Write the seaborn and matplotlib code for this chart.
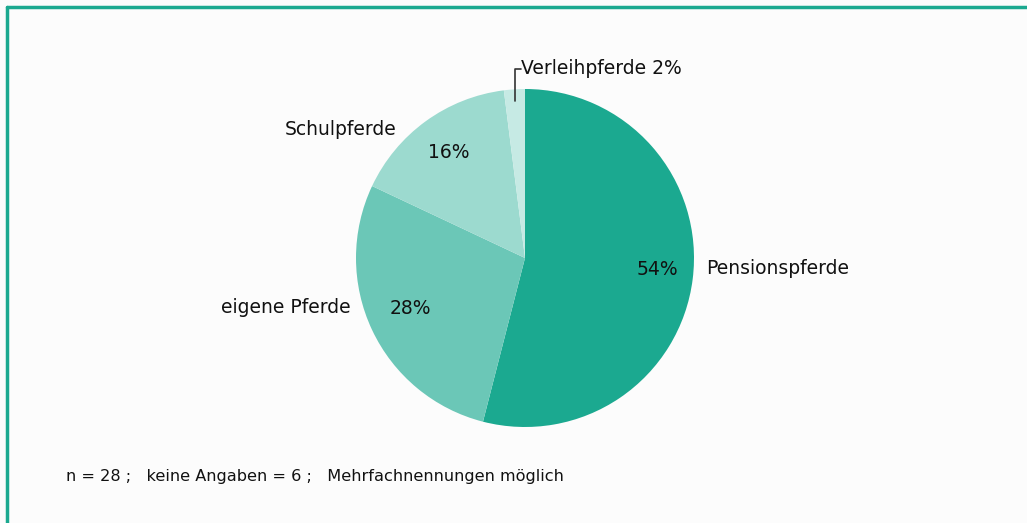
import matplotlib
matplotlib.use("Agg")
import matplotlib.pyplot as plt
import seaborn as sns
import numpy as np

# data
categories = ["Pensionspferde", "eigene Pferde", "Schulpferde", "Verleihpferde"]
shares = [54, 28, 16, 2]
colors = ["#1ba990", "#6bc7b7", "#9cdacf", "#c6eae4"]
footnote = "n = 28 ;   keine Angaben = 6 ;   Mehrfachnennungen möglich"

sns.set_theme(style="white")
plt.rcParams["font.family"] = ["DejaVu Sans"]

fig = plt.figure(figsize=(10.27, 5.23), dpi=100, facecolor="#fcfcfc")

# teal frame (top and left edges)
fig.add_artist(plt.Line2D([7 / 1027, 1], [1 - 7 / 523, 1 - 7 / 523], color="#1ba990", lw=2.5))
fig.add_artist(plt.Line2D([7 / 1027, 7 / 1027], [0, 1 - 7 / 523], color="#1ba990", lw=2.5))

# pie: centre (525, 258), radius 169 px
r = 169
ax = fig.add_axes([(525 - r) / 1027, (523 - 258 - r) / 523, 2 * r / 1027, 2 * r / 523])
ax.set_facecolor("none")
wedges, _, autotexts = ax.pie(shares, colors=colors, startangle=90, counterclock=False,
                              autopct=lambda p: "" if p < 5 else f"{p:.0f}%",
                              pctdistance=0.77, radius=1,
                              wedgeprops=dict(linewidth=0),
                              textprops=dict(fontsize=13.5, color="#111111"))
ax.set_xlim(-1, 1)
ax.set_ylim(-1, 1)
ax.set_aspect("equal")
ax.axis("off")

# nudge lower percentages slightly upward
for t in autotexts[:2]:
    x, y = t.get_position()
    t.set_position((x + 0.02, y + 0.03))

# category labels
label_pos = {
    "Pensionspferde": (1.07, -0.06, "left"),
    "eigene Pferde": (-1.03, -0.29, "right"),
    "Schulpferde": (-0.76, 0.76, "right"),
}
for name, (x, y, ha) in label_pos.items():
    ax.text(x, y, name, ha=ha, va="center", fontsize=13.5, color="#111111", clip_on=False)

# small slice with leader line
w = wedges[3]
mid = np.deg2rad((w.theta1 + w.theta2) / 2)
lx, ly = 0.93 * np.cos(mid), 0.93 * np.sin(mid)
ax.plot([lx, lx, lx + 0.035], [ly, 1.12, 1.12], color="#333333", lw=1.2, clip_on=False)
ax.text(lx + 0.035, 1.12, f"{categories[3]} {shares[3]}%", ha="left", va="center",
        fontsize=13.5, color="#111111", clip_on=False)

fig.text(66 / 1027, 1 - 476 / 523, footnote, ha="left", va="center", fontsize=11.6, color="#111111")

fig.savefig("out.png", dpi=100, facecolor=fig.get_facecolor())
